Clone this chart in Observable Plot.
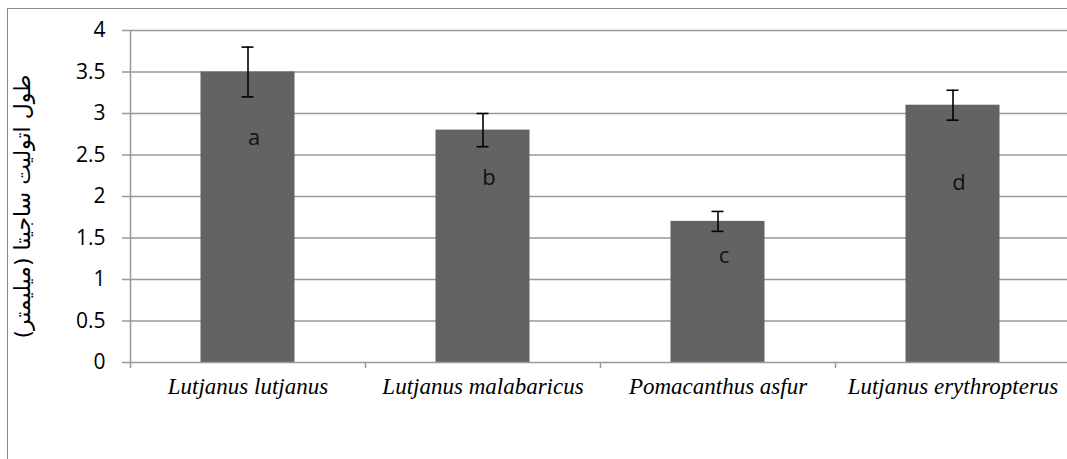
<!DOCTYPE html>
<html>
<head>
<meta charset="utf-8">
<script src="https://cdn.jsdelivr.net/npm/d3@7"></script>
<script src="https://cdn.jsdelivr.net/npm/@observablehq/plot@0.6"></script>
<style>
  html, body { margin: 0; padding: 0; background: #fff; }
  #wrap { position: relative; width: 1067px; height: 459px; overflow: hidden; }
  #frame { position: absolute; left: 7px; top: 8px; width: 1100px; height: 500px;
           border-top: 1.5px solid #8a8a8a; border-left: 1.5px solid #8a8a8a; box-sizing: border-box; }
  #wrap svg { position: absolute; left: 0; top: 0; }
</style>
</head>
<body>
<div id="wrap"><div id="frame"></div></div>
<script>
const species = ["Lutjanus lutjanus", "Lutjanus malabaricus", "Pomacanthus asfur", "Lutjanus erythropterus"];
const means = [3.5, 2.8, 1.7, 3.1];
const errors = [0.3, 0.2, 0.12, 0.18];
const letters = ["a", "b", "c", "d"];
const letterY = [2.71, 2.22, 1.28, 2.16];
const yTicks = [0, 0.5, 1, 1.5, 2, 2.5, 3, 3.5, 4];
const yLabel = "طول اتولیت ساجیتا (میلیمتر)";

const data = species.map((s, i) => ({
  name: s, mean: means[i], lo: means[i] - errors[i], hi: means[i] + errors[i],
  letter: letters[i], ly: letterY[i]
}));

const bandW = (1070 - 130) / species.length;
const half = bandW / 2;
const gray = "#999";
const sans = "'Open Sans', Lato, sans-serif";

const chart = Plot.plot({
  width: 1067,
  height: 459,
  marginLeft: 130,
  marginRight: 0,
  marginTop: 30,
  marginBottom: 97,
  style: { fontFamily: sans, background: "transparent", overflow: "visible" },
  x: { domain: species, range: [130, 1070], padding: 0, label: null },
  y: { domain: [0, 4], label: null },
  marks: [
    Plot.ruleY(yTicks.slice(1), { stroke: gray, strokeWidth: 1.5 }),
    Plot.barY(data, { x: "name", y: "mean", fill: "#636363", insetLeft: (bandW - 94) / 2, insetRight: (bandW - 94) / 2 }),
    Plot.ruleY([0], { stroke: gray, strokeWidth: 1.5 }),
    Plot.ruleX([species[0]], { dx: -half, stroke: gray, strokeWidth: 1.5 }),
    Plot.axisY({ ticks: yTicks, tickSize: 8, tickPadding: 17, stroke: gray, strokeWidth: 1.5, fontSize: 21, fill: "#000", tickFormat: d => String(d), label: null }),
    Plot.axisX({ tickSize: 6, dx: -half, stroke: gray, strokeWidth: 1.5, tickFormat: () => "", label: null }),
    Plot.axisX({ tickSize: 0, tickPadding: 15, fontSize: 23, fontStyle: "italic", fontFamily: "'Liberation Serif', 'Times New Roman', serif", fill: "#000", label: null }),
    Plot.ruleX(data, { x: "name", y1: "lo", y2: "hi", stroke: "#000", strokeWidth: 1.6 }),
    Plot.tickY(data, { x: "name", y: "lo", stroke: "#000", strokeWidth: 1.6, insetLeft: half - 6, insetRight: half - 6 }),
    Plot.tickY(data, { x: "name", y: "hi", stroke: "#000", strokeWidth: 1.6, insetLeft: half - 6, insetRight: half - 6 }),
    Plot.text(data, { x: "name", y: "ly", text: "letter", dx: 6, fontSize: 22, fill: "#111" }),
    Plot.text([yLabel], { text: d => d, frameAnchor: "left", textAnchor: "middle", rotate: -90, dx: -108, dy: 10, fontSize: 22, fill: "#000", fontFamily: "'DejaVu Sans', sans-serif" })
  ]
});
document.getElementById("wrap").appendChild(chart);
</script>
</body>
</html>
